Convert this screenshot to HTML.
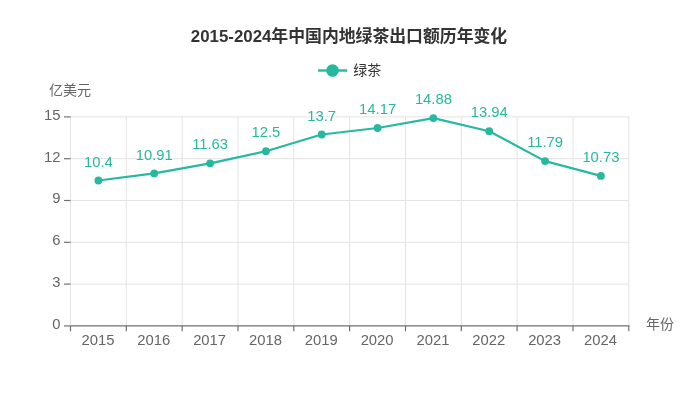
<!DOCTYPE html><html><head><meta charset="utf-8"><title>chart</title><style>html,body{margin:0;padding:0;background:#fff}svg{display:block}text{font-family:"Liberation Sans","Noto Sans CJK SC",sans-serif}</style></head><body>
<svg width="698" height="407" viewBox="0 0 698 407">
<rect width="698" height="407" fill="#fff"/>
<line x1="70.5" x2="628.8" y1="116.9" y2="116.9" stroke="#e3e3e3" stroke-width="1"/>
<line x1="70.5" x2="628.8" y1="158.7" y2="158.7" stroke="#e3e3e3" stroke-width="1"/>
<line x1="70.5" x2="628.8" y1="200.5" y2="200.5" stroke="#e3e3e3" stroke-width="1"/>
<line x1="70.5" x2="628.8" y1="242.3" y2="242.3" stroke="#e3e3e3" stroke-width="1"/>
<line x1="70.5" x2="628.8" y1="284.1" y2="284.1" stroke="#e3e3e3" stroke-width="1"/>
<line x1="70.5" x2="70.5" y1="116.9" y2="325.85" stroke="#e3e3e3" stroke-width="1"/>
<line x1="126.3" x2="126.3" y1="116.9" y2="325.85" stroke="#e3e3e3" stroke-width="1"/>
<line x1="182.2" x2="182.2" y1="116.9" y2="325.85" stroke="#e3e3e3" stroke-width="1"/>
<line x1="238.0" x2="238.0" y1="116.9" y2="325.85" stroke="#e3e3e3" stroke-width="1"/>
<line x1="293.8" x2="293.8" y1="116.9" y2="325.85" stroke="#e3e3e3" stroke-width="1"/>
<line x1="349.6" x2="349.6" y1="116.9" y2="325.85" stroke="#e3e3e3" stroke-width="1"/>
<line x1="405.5" x2="405.5" y1="116.9" y2="325.85" stroke="#e3e3e3" stroke-width="1"/>
<line x1="461.3" x2="461.3" y1="116.9" y2="325.85" stroke="#e3e3e3" stroke-width="1"/>
<line x1="517.1" x2="517.1" y1="116.9" y2="325.85" stroke="#e3e3e3" stroke-width="1"/>
<line x1="573.0" x2="573.0" y1="116.9" y2="325.85" stroke="#e3e3e3" stroke-width="1"/>
<line x1="628.8" x2="628.8" y1="116.9" y2="325.85" stroke="#e3e3e3" stroke-width="1"/>
<line x1="70.5" x2="629.4" y1="325.85" y2="325.85" stroke="#707070" stroke-width="1.4"/>
<line x1="70.5" x2="70.5" y1="325.85" y2="331.35" stroke="#707070" stroke-width="1.2"/>
<line x1="126.3" x2="126.3" y1="325.85" y2="331.35" stroke="#707070" stroke-width="1.2"/>
<line x1="182.2" x2="182.2" y1="325.85" y2="331.35" stroke="#707070" stroke-width="1.2"/>
<line x1="238.0" x2="238.0" y1="325.85" y2="331.35" stroke="#707070" stroke-width="1.2"/>
<line x1="293.8" x2="293.8" y1="325.85" y2="331.35" stroke="#707070" stroke-width="1.2"/>
<line x1="349.6" x2="349.6" y1="325.85" y2="331.35" stroke="#707070" stroke-width="1.2"/>
<line x1="405.5" x2="405.5" y1="325.85" y2="331.35" stroke="#707070" stroke-width="1.2"/>
<line x1="461.3" x2="461.3" y1="325.85" y2="331.35" stroke="#707070" stroke-width="1.2"/>
<line x1="517.1" x2="517.1" y1="325.85" y2="331.35" stroke="#707070" stroke-width="1.2"/>
<line x1="573.0" x2="573.0" y1="325.85" y2="331.35" stroke="#707070" stroke-width="1.2"/>
<line x1="628.8" x2="628.8" y1="325.85" y2="331.35" stroke="#707070" stroke-width="1.2"/>
<line x1="64.0" x2="70.5" y1="116.9" y2="116.9" stroke="#707070" stroke-width="1.2"/>
<text x="60.5" y="119.8" font-size="14.8" fill="#666" text-anchor="end">15</text>
<line x1="64.0" x2="70.5" y1="158.7" y2="158.7" stroke="#707070" stroke-width="1.2"/>
<text x="60.5" y="161.6" font-size="14.8" fill="#666" text-anchor="end">12</text>
<line x1="64.0" x2="70.5" y1="200.5" y2="200.5" stroke="#707070" stroke-width="1.2"/>
<text x="60.5" y="203.4" font-size="14.8" fill="#666" text-anchor="end">9</text>
<line x1="64.0" x2="70.5" y1="242.3" y2="242.3" stroke="#707070" stroke-width="1.2"/>
<text x="60.5" y="245.2" font-size="14.8" fill="#666" text-anchor="end">6</text>
<line x1="64.0" x2="70.5" y1="284.1" y2="284.1" stroke="#707070" stroke-width="1.2"/>
<text x="60.5" y="287.0" font-size="14.8" fill="#666" text-anchor="end">3</text>
<line x1="64.0" x2="70.5" y1="325.9" y2="325.9" stroke="#707070" stroke-width="1.2"/>
<text x="60.5" y="328.8" font-size="14.8" fill="#666" text-anchor="end">0</text>
<text x="97.9" y="345.4" font-size="14.8" fill="#666" text-anchor="middle">2015</text>
<text x="153.7" y="345.4" font-size="14.8" fill="#666" text-anchor="middle">2016</text>
<text x="209.6" y="345.4" font-size="14.8" fill="#666" text-anchor="middle">2017</text>
<text x="265.4" y="345.4" font-size="14.8" fill="#666" text-anchor="middle">2018</text>
<text x="321.2" y="345.4" font-size="14.8" fill="#666" text-anchor="middle">2019</text>
<text x="377.1" y="345.4" font-size="14.8" fill="#666" text-anchor="middle">2020</text>
<text x="432.9" y="345.4" font-size="14.8" fill="#666" text-anchor="middle">2021</text>
<text x="488.7" y="345.4" font-size="14.8" fill="#666" text-anchor="middle">2022</text>
<text x="544.6" y="345.4" font-size="14.8" fill="#666" text-anchor="middle">2023</text>
<text x="600.4" y="345.4" font-size="14.8" fill="#666" text-anchor="middle">2024</text>
<text x="49" y="95" font-size="14" fill="#666">亿美元</text>
<text x="646" y="329" font-size="14" fill="#666">年份</text>
<text x="349" y="42" font-size="16.85" font-weight="bold" fill="#333" text-anchor="middle">2015-2024年中国内地绿茶出口额历年变化</text>
<line x1="318" x2="347.2" y1="70.5" y2="70.5" stroke="#26b9a0" stroke-width="2.4"/>
<circle cx="332.5" cy="70.5" r="6.3" fill="#26b9a0"/>
<text x="353.3" y="75" font-size="14" fill="#333">绿茶</text>
<polyline points="98.4,180.5 154.2,173.4 210.1,163.3 265.9,151.2 321.7,134.5 377.6,128.0 433.4,118.1 489.2,131.2 545.1,161.1 600.9,175.9" fill="none" stroke="#26b9a0" stroke-width="2.2" stroke-linejoin="round"/>
<circle cx="98.4" cy="180.5" r="3.9" fill="#26b9a0"/>
<text x="98.4" y="166.6" font-size="14.8" fill="#26b9a0" text-anchor="middle">10.4</text>
<circle cx="154.2" cy="173.4" r="3.9" fill="#26b9a0"/>
<text x="154.2" y="159.5" font-size="14.8" fill="#26b9a0" text-anchor="middle">10.91</text>
<circle cx="210.1" cy="163.3" r="3.9" fill="#26b9a0"/>
<text x="210.1" y="149.4" font-size="14.8" fill="#26b9a0" text-anchor="middle">11.63</text>
<circle cx="265.9" cy="151.2" r="3.9" fill="#26b9a0"/>
<text x="265.9" y="137.3" font-size="14.8" fill="#26b9a0" text-anchor="middle">12.5</text>
<circle cx="321.7" cy="134.5" r="3.9" fill="#26b9a0"/>
<text x="321.7" y="120.6" font-size="14.8" fill="#26b9a0" text-anchor="middle">13.7</text>
<circle cx="377.6" cy="128.0" r="3.9" fill="#26b9a0"/>
<text x="377.6" y="114.1" font-size="14.8" fill="#26b9a0" text-anchor="middle">14.17</text>
<circle cx="433.4" cy="118.1" r="3.9" fill="#26b9a0"/>
<text x="433.4" y="104.2" font-size="14.8" fill="#26b9a0" text-anchor="middle">14.88</text>
<circle cx="489.2" cy="131.2" r="3.9" fill="#26b9a0"/>
<text x="489.2" y="117.3" font-size="14.8" fill="#26b9a0" text-anchor="middle">13.94</text>
<circle cx="545.1" cy="161.1" r="3.9" fill="#26b9a0"/>
<text x="545.1" y="147.2" font-size="14.8" fill="#26b9a0" text-anchor="middle">11.79</text>
<circle cx="600.9" cy="175.9" r="3.9" fill="#26b9a0"/>
<text x="600.9" y="162.0" font-size="14.8" fill="#26b9a0" text-anchor="middle">10.73</text>
</svg></body></html>
